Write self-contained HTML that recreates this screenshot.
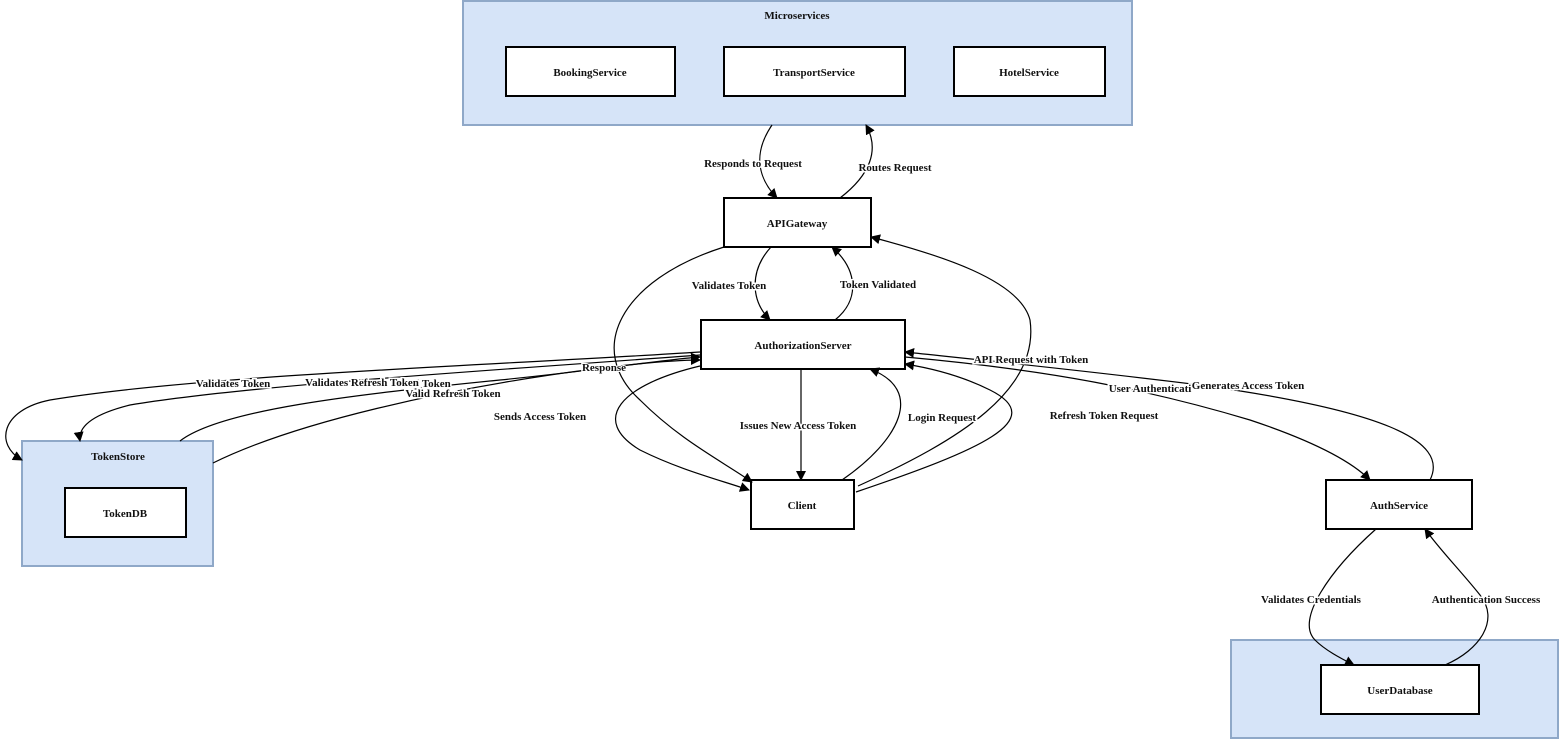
<!DOCTYPE html>
<html><head><meta charset="utf-8"><style>
html,body{margin:0;padding:0;background:#fff;}
svg text{font-family:"Liberation Serif",serif;font-size:11px;font-weight:bold;fill:#111;}
</style></head><body>
<svg width="1560" height="740" viewBox="0 0 1560 740" xmlns="http://www.w3.org/2000/svg">
<defs><marker id="a" markerWidth="10" markerHeight="10" refX="9" refY="5" orient="auto" markerUnits="userSpaceOnUse"><path d="M0,0 L10,5 L0,10 z" fill="#000"/></marker></defs>
<g fill="#d6e4f8" stroke="#8fa8c8" stroke-width="2">
<rect x="463" y="1" width="669" height="124"/>
<rect x="22" y="441" width="191" height="125"/>
<rect x="1231" y="640" width="327" height="98"/>
</g>
<g fill="#fff" stroke="#000" stroke-width="2">
<rect x="506" y="47" width="169" height="49"/>
<rect x="724" y="47" width="181" height="49"/>
<rect x="954" y="47" width="151" height="49"/>
<rect x="724" y="198" width="147" height="49"/>
<rect x="701" y="320" width="204" height="49"/>
<rect x="751" y="480" width="103" height="49"/>
<rect x="65" y="488" width="121" height="49"/>
<rect x="1326" y="480" width="146" height="49"/>
<rect x="1321" y="665" width="158" height="49"/>
</g>
<g fill="none" stroke="#000" stroke-width="1.2" marker-end="url(#a)">
<path d="M772,125 C755,150 755,175 777,198"/>
<path d="M840,198 C870,175 880,150 866,125"/>
<path d="M771,247 C750,270 750,300 770,320"/>
<path d="M835,320 C860,300 858,270 832,247"/>
<path d="M724,247 C620,280 585,350 640,400 C680,440 720,460 752,482"/>
<path d="M700,366 C620,385 590,420 640,450 C680,470 720,480 749,490"/>
<path d="M801,369 L801,480"/>
<path d="M842,480 C900,440 925,390 870,369"/>
<path d="M858,486 C960,440 1040,390 1030,320 C1020,280 940,255 871,237"/>
<path d="M856,492 C980,450 1050,420 990,390 C960,375 930,368 905,364"/>
<path d="M1430,480 C1450,440 1380,410 1200,385 C1080,370 980,360 905,352"/>
<path d="M905,357 C1050,370 1150,390 1250,420 C1310,440 1350,460 1370,480"/>
<path d="M700,352 C500,365 200,375 50,400 C0,410 -5,445 22,460"/>
<path d="M700,355 C500,370 250,385 130,405 C90,415 78,428 80,441"/>
<path d="M180,441 C220,410 350,395 500,380 C600,370 660,360 700,357"/>
<path d="M213,463 C300,420 450,390 550,375 C620,365 670,360 700,360"/>
<path d="M1376,529 C1330,570 1295,620 1315,640 C1325,650 1340,658 1354,665"/>
<path d="M1445,665 C1480,650 1500,620 1480,595 C1460,570 1440,550 1425,529"/>
</g>
<g text-anchor="middle">
<text x="797" y="19">Microservices</text>
<text x="590" y="76">BookingService</text>
<text x="814" y="76">TransportService</text>
<text x="1029" y="76">HotelService</text>
<text x="797" y="227">APIGateway</text>
<text x="803" y="349">AuthorizationServer</text>
<text x="802" y="509">Client</text>
<text x="118" y="460">TokenStore</text>
<text x="125" y="517">TokenDB</text>
<text x="1399" y="509">AuthService</text>
<text x="1400" y="694">UserDatabase</text>
</g>
<g text-anchor="middle">
<text x="753" y="167" stroke="#fff" stroke-width="3" paint-order="stroke">Responds to Request</text>
<text x="895" y="171" stroke="#fff" stroke-width="3" paint-order="stroke">Routes Request</text>
<text x="729" y="289" stroke="#fff" stroke-width="3" paint-order="stroke">Validates Token</text>
<text x="878" y="288" stroke="#fff" stroke-width="3" paint-order="stroke">Token Validated</text>
<text x="604" y="371" stroke="#fff" stroke-width="2" paint-order="stroke">Response</text>
<text x="540" y="420" stroke="#fff" stroke-width="3" paint-order="stroke">Sends Access Token</text>
<text x="798" y="429" stroke="#fff" stroke-width="3" paint-order="stroke">Issues New Access Token</text>
<text x="942" y="421" stroke="#fff" stroke-width="3" paint-order="stroke">Login Request</text>
<text x="1031" y="363" stroke="#fff" stroke-width="3" paint-order="stroke">API Request with Token</text>
<text x="1104" y="419" stroke="#fff" stroke-width="3" paint-order="stroke">Refresh Token Request</text>
<text x="1150" y="392" stroke="#fff" stroke-width="3" paint-order="stroke">User Authenticati</text>
<text x="1248" y="389" stroke="#fff" stroke-width="3" paint-order="stroke">Generates Access Token</text>
<text x="233" y="387" stroke="#fff" stroke-width="3" paint-order="stroke">Validates Token</text>
<text x="432" y="387" stroke="#fff" stroke-width="3" paint-order="stroke">d Token</text>
<text x="362" y="386" stroke="#fff" stroke-width="3" paint-order="stroke">Validates Refresh Token</text>
<text x="453" y="397" stroke="#fff" stroke-width="3" paint-order="stroke">Valid Refresh Token</text>
<text x="1311" y="603" stroke="#fff" stroke-width="3" paint-order="stroke">Validates Credentials</text>
<text x="1486" y="603" stroke="#fff" stroke-width="3" paint-order="stroke">Authentication Success</text>
</g>
</svg>
</body></html>
